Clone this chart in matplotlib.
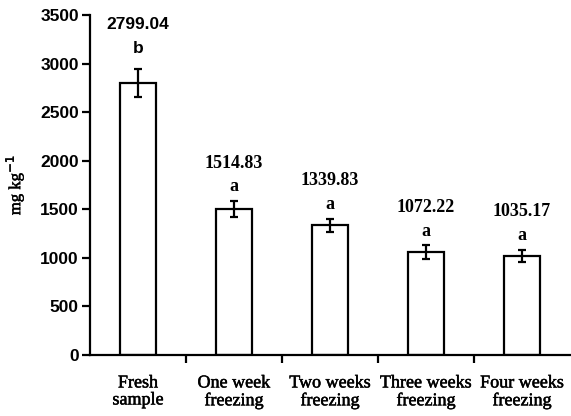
import matplotlib
matplotlib.use("Agg")
import matplotlib.pyplot as plt
import matplotlib.patheffects as pe
import numpy as np

categories = ["Fresh\nsample", "One week\nfreezing", "Two weeks\nfreezing",
              "Three weeks\nfreezing", "Four weeks\nfreezing"]
values = [2799.04, 1505, 1335, 1060, 1020]
errors = [140, 80, 70, 70, 65]
value_labels = ["2799.04", "1514.83", "1339.83", "1072.22", "1035.17"]
letters = ["b", "a", "a", "a", "a"]
yticks = [0, 500, 1000, 1500, 2000, 2500, 3000, 3500]

plt.rcParams['font.family'] = ['Liberation Serif', 'DejaVu Serif']
thick = [pe.withStroke(linewidth=0.35, foreground='black')]

fig = plt.figure(figsize=(5.71, 4.16), dpi=100)
ax = fig.add_axes([90/571, 61/416, 480/571, 340/416])

x = np.arange(len(categories))
ax.bar(x, values, width=0.38, color='white', edgecolor='black', linewidth=1.6)
ax.errorbar(x, values, yerr=errors, fmt='none', ecolor='black',
            elinewidth=1.6, capsize=3, capthick=1.6)

for i, (xi, v, e, lab, let) in enumerate(zip(x, values, errors, value_labels, letters)):
    top = v + e
    if i == 0:
        kw = dict(family=['Liberation Sans', 'DejaVu Sans'], fontweight='bold', fontsize=12.5)
        o1, o2 = 10, 27
    else:
        kw = dict(fontweight='bold', fontsize=13)
        o1, o2 = 4, 21
    ax.annotate(let, (xi, top), xytext=(0, o1), textcoords='offset points',
                ha='center', va='bottom', **kw)
    ax.annotate(lab, (xi, top), xytext=(0, o2), textcoords='offset points',
                ha='center', va='bottom', **kw)

ax.set_xlim(-0.5, len(categories) - 0.5)
ax.set_ylim(0, 3500)
ax.set_yticks(yticks)
ax.set_yticklabels([str(t) for t in yticks], fontsize=12.5, fontweight='bold',
                   family=['Liberation Sans', 'DejaVu Sans'])
ax.set_xticks(x)
ax.set_xticklabels(categories, fontsize=13, linespacing=1.0, path_effects=thick)
ax.set_xticks(np.arange(0.5, len(categories) - 0.5, 1.0), minor=True)
ax.tick_params(axis='x', which='major', length=0, pad=14)
ax.tick_params(axis='x', which='minor', length=6, width=1.6, direction='out')
ax.tick_params(axis='y', length=6, width=1.6, direction='out', pad=2)

for s in ['top', 'right']:
    ax.spines[s].set_visible(False)
for s in ['left', 'bottom']:
    ax.spines[s].set_linewidth(1.6)

ax.set_ylabel("mg kg$^{-1}$", fontsize=12, labelpad=10, path_effects=thick)

fig.savefig("out.png", dpi=100)
